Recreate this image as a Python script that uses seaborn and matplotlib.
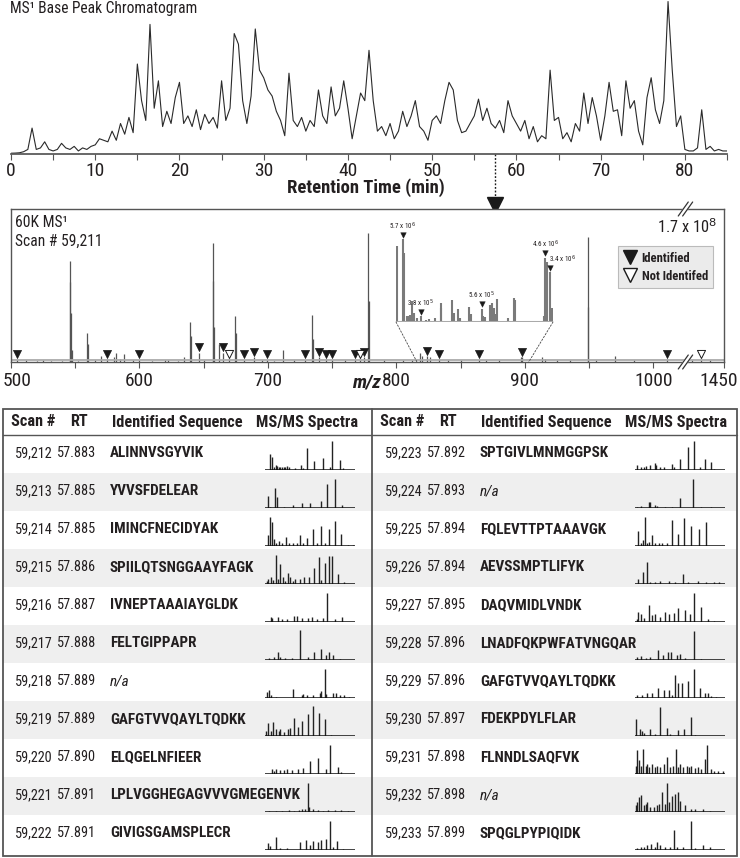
import numpy as np
import pandas as pd
import seaborn as sns
import matplotlib.pyplot as plt
import matplotlib.font_manager as fm
from matplotlib.font_manager import FontProperties
from matplotlib.textpath import TextToPath
from matplotlib.patches import Rectangle, ConnectionPatch
from matplotlib.lines import Line2D
from matplotlib.transforms import ScaledTranslation

# ---- chromatogram (base peak, % of max), sampled every 0.5 min from 0 to 85 min
rt_step = 0.5
bpc = [0.5, 0.6, 0.8, 1.5, 3, 17, 3, 4, 8, 3,
       2, 3, 7, 4, 3, 5, 2, 4, 3, 5,
       6, 10, 9, 8, 15, 9, 20, 13, 24, 14,
       59, 35, 22, 85, 30, 48, 18, 28, 20, 37,
       47, 20, 25, 18, 29, 16, 26, 20, 24, 17,
       48, 22, 30, 79, 72, 35, 20, 38, 82, 55,
       50, 42, 38, 28, 22, 12, 53, 22, 18, 24,
       15, 22, 18, 42, 25, 20, 44, 25, 30, 48,
       30, 10, 25, 40, 35, 68, 35, 15, 18, 12,
       20, 10, 15, 28, 18, 25, 35, 18, 15, 9,
       22, 25, 20, 35, 47, 42, 22, 14, 15, 20,
       25, 36, 22, 30, 20, 17, 22, 14, 35, 25,
       20, 15, 22, 10, 18, 8, 12, 10, 55, 22,
       24, 10, 14, 8, 20, 15, 40, 20, 37, 25,
       9, 25, 47, 28, 29, 12, 48, 30, 35, 15,
       6, 37, 50, 29, 20, 35, 100, 55, 18, 25,
       3, 2, 2, 4, 29, 3, 5, 2, 3, 2, 2]
selected_rt = 57.5

# ---- MS1 spectrum (scan 59,211), relative intensity %
spec_mz = [505, 512, 520, 525, 531, 540, 545.8, 546.3, 546.8, 547.4, 552, 559, 560, 565,
           570, 575, 580, 582, 585, 588, 595, 600, 610, 620, 622, 630, 635, 639, 640, 646,
           650, 657, 657.5, 658, 662, 665, 670, 674, 675, 681, 689, 695, 699, 705, 712,
           720, 729, 734, 735, 740, 745, 750, 760, 768, 772, 775, 778, 778.5, 790, 805,
           812, 818, 820, 824, 826, 833, 840, 850, 864, 870, 880, 897, 898, 913, 916, 925,
           935, 949, 949.5, 955, 970, 985, 1011, 1100, 1195, 1300]
spec_int = [1.5, 1.2, 0.8, 1.2, 0.8, 0.8, 66, 52, 32, 8, 0.8, 19, 12, 1,
            4, 2, 3, 6, 2, 5, 1, 1.5, 0.8, 1.5, 1.2, 0.8, 3, 26, 17, 6,
            1, 78, 53, 23, 12, 6, 2, 30, 19, 1.5, 3, 1, 1.5, 0.8, 8,
            1, 1.5, 31, 15, 3, 2, 1.5, 1, 2, 1.5, 3, 84, 40, 1, 1,
            1.2, 6, 4, 4, 3, 2, 1.5, 1, 1.5, 1.2, 1, 3, 3, 3, 2, 1,
            1, 82, 36, 1, 4, 1, 2, 1, 1.5, 1]
ident_mz = [505, 575, 600, 646, 665, 681, 689, 699, 729, 740, 745, 750, 768, 775,
            824, 833, 864, 898, 1011]
notident_mz = [670, 772, 1195]
break_mz = 1025

# ---- inset zoom (m/z 816-903), intensity x10^6
inset_mz = [816.4, 819.7, 820.6, 821.9, 823.4, 823.7, 825.0, 826.1, 827.4, 829.6, 831.1,
            832.4, 834.4, 837.6, 840.7, 841.2, 843.1, 847.1, 848.1, 850.5, 851.4, 856.4,
            857.5, 863.4, 864.3, 865.2, 868.3, 869.3, 870.2, 871.1, 872.2, 878.1, 881.2,
            882.2, 897.8, 898.8, 899.7, 901.1, 902.3]
inset_int = [5.24, 5.7, 4.78, 0.41, 0.41, 0.48, 1.45, 0.64, 0.3, 0.38, 0.1,
             0.14, 0.18, 0.3, 1.33, 0.99, 0.1, 1.5, 0.64, 0.87, 0.3, 1.03,
             0.57, 0.92, 0.41, 0.35, 1.15, 1.29, 0.99, 0.53, 1.56, 0.3, 1.68,
             1.5, 0.41, 4.44, 4.1, 3.45, 0.99]
inset_mark_mz = [819.7, 829.6, 863.4, 898.8, 901.1]
inset_mark_lbl = ["5.7 x 10$^6$", "3.8 x 10$^5$", "5.6 x 10$^5$", "4.6 x 10$^6$", "3.4 x 10$^6$"]

# ---- table
scan_ids = ["59,212", "59,213", "59,214", "59,215", "59,216", "59,217", "59,218", "59,219",
            "59,220", "59,221", "59,222", "59,223", "59,224", "59,225", "59,226", "59,227",
            "59,228", "59,229", "59,230", "59,231", "59,232", "59,233"]
rts = ["57.883", "57.885", "57.885", "57.886", "57.887", "57.888", "57.889", "57.889",
       "57.890", "57.891", "57.891", "57.892", "57.893", "57.894", "57.894", "57.895",
       "57.896", "57.896", "57.897", "57.898", "57.898", "57.899"]
seqs = ["ALINNVSGYVIK", "YVVSFDELEAR", "IMINCFNECIDYAK", "SPIILQTSNGGAAYFAGK",
        "IVNEPTAAAIAYGLDK", "FELTGIPPAPR", "n/a", "GAFGTVVQAYLTQDKK", "ELQGELNFIEER",
        "LPLVGGHEGAGVVVGMEGENVK", "GIVIGSGAMSPLECR", "SPTGIVLMNMGGPSK", "n/a",
        "FQLEVTTPTAAAVGK", "AEVSSMPTLIFYK", "DAQVMIDLVNDK", "LNADFQKPWFATVNGQAR",
        "GAFGTVVQAYLTQDKK", "FDEKPDYLFLAR", "FLNNDLSAQFVK", "n/a", "SPQGLPYPIQIDK"]

# MS/MS thumbnails: relative m/z (arbitrary units) and relative intensity
ms2_mz = [
    [42, 48, 55, 60, 65, 70, 75, 80, 85, 90, 95, 100, 120, 137, 145, 157, 178, 205, 225, 231, 257, 265],
    [37, 42, 58, 65, 85, 112, 142, 166, 200, 218, 240, 262],
    [38, 43, 48, 55, 62, 72, 80, 92, 100, 112, 125, 135, 145, 155, 175, 185, 197, 210, 222, 241, 260, 280, 295],
    [35, 38, 45, 52, 62, 68, 75, 82, 90, 97, 105, 112, 120, 135, 148, 163, 178, 193, 200, 212, 222, 233, 250, 268],
    [45, 50, 68, 80, 95, 115, 125, 140, 160, 172, 185, 205, 218, 240, 262],
    [40, 55, 68, 75, 90, 110, 135, 160, 177, 200, 213, 222, 235, 255],
    [35, 40, 45, 60, 112, 140, 145, 155, 175, 195, 198, 210, 215, 235, 245, 255, 270, 285],
    [32, 38, 45, 52, 62, 70, 75, 85, 98, 103, 117, 128, 142, 160, 174, 192, 210, 228],
    [48, 55, 62, 75, 85, 95, 110, 128, 143, 166, 190, 213, 226, 250, 258],
    [40, 60, 80, 100, 115, 130, 140, 150, 158, 162, 175, 190, 205, 220, 240, 260, 280],
    [38, 43, 60, 75, 95, 135, 152, 165, 175, 190, 200, 215, 227, 235, 248, 265],
    [35, 45, 55, 60, 75, 88, 93, 105, 115, 140, 148, 165, 188, 207, 225, 240, 260, 270],
    [35, 45, 70, 75, 90, 95, 120, 140, 165, 205, 230, 260],
    [38, 45, 52, 58, 65, 70, 80, 90, 100, 110, 125, 142, 160, 178, 200, 222, 245],
    [38, 52, 64, 75, 90, 105, 130, 150, 175, 190, 220, 245, 268, 285],
    [35, 38, 45, 55, 72, 80, 90, 105, 120, 133, 148, 160, 180, 195, 208, 230, 250, 270],
    [35, 45, 60, 75, 97, 113, 128, 138, 155, 165, 180, 208, 230],
    [35, 50, 65, 80, 97, 115, 130, 140, 150, 160, 170, 188, 208, 225, 240, 250, 260, 275],
    [32, 42, 50, 55, 75, 90, 103, 125, 135, 158, 178, 198, 210],
    [32, 35, 40, 45, 53, 60, 65, 72, 80, 88, 95, 105, 115, 125, 135, 145, 152, 160, 165, 175,
     185, 193, 200, 210, 220, 230, 240, 247, 260, 270, 280, 295],
    [32, 35, 40, 47, 55, 60, 65, 75, 85, 95, 100, 110, 118, 125, 133, 140, 150, 160, 165, 180,
     200, 210, 235, 255],
    [35, 45, 55, 65, 78, 90, 95, 105, 120, 135, 148, 155, 175, 200, 210, 235, 255],
]
ms2_int = [
    [50, 40, 10, 15, 12, 8, 10, 8, 10, 8, 12, 10, 5, 15, 5, 67, 27, 37, 10, 90, 30, 5],
    [38, 4, 61, 33, 3, 8, 15, 16, 21, 73, 88, 8],
    [35, 88, 75, 20, 10, 15, 8, 28, 8, 10, 8, 33, 8, 25, 51, 8, 61, 10, 53, 78, 36, 3, 3],
    [8, 15, 23, 12, 90, 15, 60, 20, 10, 35, 20, 10, 15, 15, 20, 20, 48, 83, 12, 63, 86, 86, 30, 5],
    [15, 12, 15, 8, 10, 17, 17, 12, 12, 14, 10, 12, 90, 10, 15],
    [6, 10, 24, 10, 5, 5, 91, 8, 26, 34, 14, 24, 14, 4],
    [18, 25, 10, 4, 28, 10, 12, 10, 8, 15, 20, 90, 12, 15, 15, 10, 8, 3],
    [15, 40, 15, 43, 20, 15, 20, 12, 20, 26, 56, 28, 45, 68, 91, 70, 53, 3],
    [15, 10, 15, 13, 13, 15, 13, 15, 18, 40, 48, 15, 90, 23, 5],
    [3, 4, 3, 5, 4, 6, 8, 10, 90, 15, 8, 5, 4, 5, 5, 5, 3],
    [20, 13, 40, 5, 5, 25, 32, 15, 27, 25, 32, 33, 90, 10, 27, 3],
    [15, 10, 8, 12, 15, 22, 15, 8, 10, 18, 10, 35, 70, 90, 8, 33, 25, 3],
    [3, 5, 18, 18, 8, 5, 3, 3, 30, 88, 3, 3],
    [45, 10, 18, 88, 10, 13, 35, 10, 8, 8, 8, 81, 38, 85, 61, 51, 73],
    [15, 37, 69, 5, 6, 8, 8, 6, 30, 5, 8, 5, 6, 5],
    [10, 30, 25, 12, 52, 20, 25, 15, 32, 25, 27, 42, 37, 25, 90, 47, 10, 3],
    [8, 12, 5, 8, 30, 15, 25, 25, 15, 18, 5, 90, 3],
    [8, 8, 15, 15, 30, 25, 25, 8, 70, 45, 45, 52, 90, 30, 15, 15, 5, 3],
    [53, 20, 15, 10, 20, 5, 88, 25, 5, 18, 20, 58, 2],
    [25, 73, 43, 25, 78, 25, 30, 20, 30, 22, 25, 20, 30, 53, 22, 25, 78, 22, 30, 20,
     25, 20, 25, 18, 20, 15, 46, 90, 15, 10, 10, 8],
    [20, 30, 45, 52, 20, 25, 30, 15, 15, 20, 25, 60, 25, 90, 30, 50, 55, 62, 35, 20,
     10, 10, 8, 3],
    [5, 8, 8, 15, 18, 8, 25, 15, 8, 8, 60, 10, 8, 90, 5, 15, 8],
]

sns.set_theme(style="white")

# pick the narrowest sans family that is installed
avail = {(f.name, f.stretch) for f in fm.fontManager.ttflist}
avail_names = {n for n, _ in avail}
FAM, STR = 'DejaVu Sans', 'normal'
for name, st in [('Liberation Sans Narrow', None), ('Roboto Condensed', None),
                 ('Open Sans Condensed', None), ('DejaVu Sans', 'condensed'),
                 ('Noto Sans', 'condensed')]:
    if (st is None and name in avail_names) or (name, st) in avail:
        FAM, STR = name, (st or 'normal')
        break
plt.rcParams['font.family'] = [FAM, 'DejaVu Sans']
plt.rcParams['font.stretch'] = STR
plt.rcParams['mathtext.fontset'] = 'dejavusans'

_t2p = TextToPath()


def fit(s, target_px, max_size, weight='normal'):
    # font size so that s is at most target_px wide (at 100 dpi)
    prop = FontProperties(family=FAM, stretch=STR, weight=weight, size=10)
    w, _, _ = _t2p.get_text_width_height_descent(s, prop, ismath=False)
    return min(max_size, 10 * target_px / (w * 100 / 72))


INK = '#231f20'
W, H = 740, 858
fig = plt.figure(figsize=(W / 100, H / 100), dpi=100)

fs_head = fit("Identified Sequence", 130, 12, 'bold')
fs_num = fit("59,212", 38, 11)
fs_seq = fit("LPLVGGHEGAGVVVGMEGENVK", 190, 11, 'bold')
fs_tick = fit("800", 32, 14)
fs_title = fit("MS¹ Base Peak Chromatogram", 188, 12)
fs_rt = fit("Retention Time (min)", 158, 13.5, 'bold')
fs_leg = fit("Not Identifed", 66, 9.5, 'bold')
fs_scan = fit("Scan # 59,211", 88, 12)


def px_axes(x0, y0, x1, y1):
    return fig.add_axes([x0 / W, 1 - y1 / H, (x1 - x0) / W, (y1 - y0) / H])


def ftext(x, y, s, **kw):
    return fig.text(x / W, 1 - y / H, s, color=INK, **kw)


# ---- table frame (drawn first, underneath)
tab = fig.add_axes([0, 0, 1, 1])
tab.set_xlim(0, W)
tab.set_ylim(H, 0)
tab.axis('off')
row_h = 38
head_y = 435
for i in range(11):
    if i % 2 == 1:
        tab.add_patch(Rectangle((3, head_y + row_h * i), 734, row_h, fc='#efefef', ec='none'))
tab.add_patch(Rectangle((3, 409), 734, 447, fill=False, ec='#555555', lw=1.3))
tab.plot([372, 372], [409, 856], color='#555555', lw=1.3)
tab.plot([3, 737], [head_y, head_y], color='#555555', lw=1.0)

for off in (0, 369):
    for lbl, cx in [("Scan #", 33), ("RT", 79), ("Identified Sequence", 177), ("MS/MS Spectra", 307)]:
        tab.text(cx + off, 422, lbl, ha='center', va='center', fontsize=fs_head,
                 fontweight='bold', color=INK)

for k in range(len(scan_ids)):
    c, i = divmod(k, 11)
    off = 0 if c == 0 else 370
    y = head_y + row_h * i + 18
    tab.text(15 + off, y, scan_ids[k], ha='left', va='center', fontsize=fs_num, color=INK)
    tab.text(57 + off, y, rts[k], ha='left', va='center', fontsize=fs_num, color=INK)
    if seqs[k] == "n/a":
        tab.text(110 + off, y, seqs[k], ha='left', va='center', fontsize=fs_seq,
                 style='italic', color=INK)
    else:
        tab.text(110 + off, y, seqs[k], ha='left', va='center', fontsize=fs_seq,
                 fontweight='bold', color=INK)

    mini = px_axes(265 + off, head_y + row_h * i + 5, 355 + off, head_y + row_h * i + 35)
    mini.patch.set_alpha(0)
    mini.vlines(ms2_mz[k], 0, ms2_int[k], color='#222222', lw=1.0)
    mini.axhline(0, color='#111111', lw=1.1)
    mini.set_xlim(28, 302)
    mini.set_ylim(0, 92)
    mini.axis('off')

# ---- chromatogram
rt = np.arange(len(bpc)) * rt_step
chrom = px_axes(11, 0, 727, 154)
chrom.patch.set_alpha(0)
sns.lineplot(x=rt, y=bpc, ax=chrom, color='#2a2a2a', lw=0.8)
chrom.set_xlim(0, 85)
chrom.set_ylim(0, 101)
for s in ['top', 'right', 'left']:
    chrom.spines[s].set_visible(False)
chrom.spines['bottom'].set_color('#555555')
chrom.set_yticks([])
chrom.set_xticks(range(0, 81, 10))
chrom.set_xticks(range(5, 86, 10), minor=True)
chrom.tick_params(axis='x', which='both', bottom=True, direction='out', length=4,
                  width=0.8, color='#555555', labelsize=fs_tick, labelcolor=INK, pad=2)
chrom.set_ylabel('')
# dotted link to the selected MS1 scan
chrom.plot([selected_rt, selected_rt], [0, -29], ls=(0, (1.3, 1.3)), color='k', lw=1.0,
           clip_on=False)
chrom.plot([selected_rt], [-33.5], marker='v', ms=11, color='k', clip_on=False)

ftext(10, 9, "MS¹ Base Peak Chromatogram", ha='left', va='center', fontsize=fs_title)
ftext(366, 188, "Retention Time (min)", ha='center', va='center', fontsize=fs_rt,
      fontweight='bold')


# ---- MS1 spectrum with broken axis
def fwd(x):
    x = np.asarray(x, dtype=float)
    return np.where(x <= break_mz, x, break_mz + (x - break_mz) * 30 / 425)


def inv(y):
    y = np.asarray(y, dtype=float)
    return np.where(y <= break_mz, y, break_mz + (y - break_mz) * 425 / 30)


spec_df = pd.DataFrame({'mz': spec_mz, 'int': spec_int}).set_index('mz')
spec = px_axes(11, 209, 724, 362)
spec.set_xscale('function', functions=(fwd, inv))
spec.vlines(spec_mz, 0, spec_int, color='#555555', lw=0.9)
spec.axhline(1.0, color='#aaaaaa', lw=1.3)
spec.set_xlim(500, 1450)
spec.set_ylim(0, 100)
spec.set_yticks([])
spec.set_xticks([500, 600, 700, 800, 900, 1000, 1450])
spec.set_xticklabels(['500', '600', '700', '800', '900', '1000', '1450'])
spec.set_xticks([550, 650, 750, 850, 950], minor=True)
spec.tick_params(axis='x', which='both', bottom=True, direction='out', length=4,
                 width=0.8, color='#555555', labelsize=fs_tick, labelcolor=INK, pad=3)
for s in spec.spines.values():
    s.set_color('#555555')
    s.set_linewidth(1.0)
# keep the end labels inside the canvas
lbls = spec.get_xticklabels()
lbls[0].set_transform(lbls[0].get_transform() + ScaledTranslation(6 / 100, 0, fig.dpi_scale_trans))
lbls[-1].set_transform(lbls[-1].get_transform() + ScaledTranslation(-5 / 100, 0, fig.dpi_scale_trans))

ident_y = spec_df.loc[ident_mz, 'int'].values + 3.5
notid_y = spec_df.loc[notident_mz, 'int'].values + 3.5
sns.scatterplot(x=ident_mz, y=ident_y, ax=spec, marker='v', s=34, color='k',
                edgecolor='k', linewidth=0.5, zorder=5)
sns.scatterplot(x=notident_mz, y=notid_y, ax=spec, marker='v', s=34, color='white',
                edgecolor='k', linewidth=0.7, zorder=5)

# break marks
xb = (fwd(break_mz) - fwd(500)) / (fwd(1450) - fwd(500))
for yb in (0, 1):
    dx, dy = 5 / 713, 7 / 153
    g = 2.2 / 713
    spec.fill([xb - g - dx, xb + g - dx, xb + g + dx, xb - g + dx],
              [yb - dy, yb - dy, yb + dy, yb + dy], color='white',
              transform=spec.transAxes, clip_on=False, zorder=6)
    for d in (-g, g):
        spec.plot([xb + d - dx, xb + d + dx], [yb - dy, yb + dy], color='#333333', lw=0.9,
                  transform=spec.transAxes, clip_on=False, zorder=7)

spec.text(0.006, 0.915, "60K MS¹", transform=spec.transAxes, ha='left', va='center',
          fontsize=fs_scan, color=INK)
spec.text(0.006, 0.79, "Scan # 59,211", transform=spec.transAxes, ha='left', va='center',
          fontsize=fs_scan, color=INK)
spec.text(0.99, 0.885, "1.7 x 10$^8$", transform=spec.transAxes, ha='right', va='center',
          fontsize=fs_scan + 0.5, color=INK)

handles = [Line2D([], [], marker='v', ls='', color='k', ms=10, label='Identified'),
           Line2D([], [], marker='v', ls='', mfc='white', mec='k', ms=10, label='Not Identifed')]
leg = spec.legend(handles=handles, loc='upper right', bbox_to_anchor=(0.994, 0.80),
                  prop={'weight': 'bold', 'size': fs_leg}, frameon=True, fancybox=False,
                  framealpha=1, handlelength=1.0, handletextpad=0.4, borderpad=0.45,
                  labelspacing=0.4)
leg.get_frame().set_facecolor('#ebebeb')
leg.get_frame().set_edgecolor('#bbbbbb')
leg.get_frame().set_linewidth(0.8)
for t in leg.get_texts():
    t.set_color(INK)

ftext(366, 383, "m/z", ha='center', va='center', fontsize=fs_tick, fontweight='bold',
      style='italic')

# ---- inset
ins = px_axes(396, 232, 553, 322)
ins.patch.set_alpha(0)
ins.vlines(inset_mz, 0, inset_int, color='#7a7a7a', lw=1.5)
ins.axhline(0, color='#aaaaaa', lw=2.2)
ins.set_xlim(816, 903)
ins.set_ylim(0, 6.2)
ins.axis('off')
ins_df = pd.DataFrame({'mz': inset_mz, 'int': inset_int}).set_index('mz')
mark_y = ins_df.loc[inset_mark_mz, 'int'].values + 0.3
sns.scatterplot(x=inset_mark_mz, y=mark_y, ax=ins, marker='v', s=16, color='k',
                edgecolor='k', linewidth=0.3, zorder=5)
for j, (mx, my, lbl) in enumerate(zip(inset_mark_mz, mark_y, inset_mark_lbl)):
    last = j == len(inset_mark_mz) - 1
    ins.text(mx - 0.3 if last else mx, my + 0.6, lbl, ha='left' if last else 'center',
             va='center', fontsize=5, color=INK, clip_on=False)

for xa, xmz in [(0, 816), (1, 903)]:
    con = ConnectionPatch(xyA=(xa, 0), coordsA=ins.transAxes, xyB=(xmz, 0),
                          coordsB=spec.transData, ls=(0, (2, 2)), lw=0.6, color='#444444')
    fig.add_artist(con)

fig.savefig('out.png', dpi=100, facecolor='white')
